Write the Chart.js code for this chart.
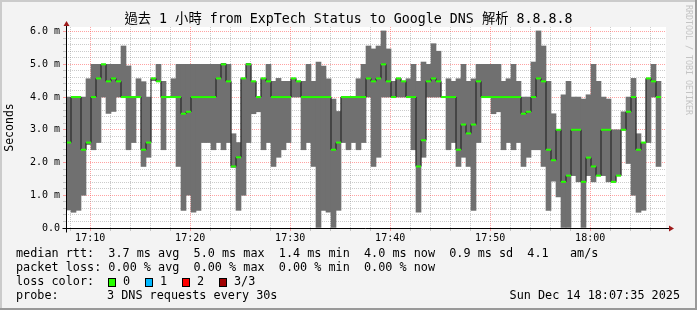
<!DOCTYPE html>
<html>
<head>
<meta charset="utf-8">
<title>過去 1 小時 from ExpTech Status to Google DNS 解析 8.8.8.8</title>
<script src="https://cdn.jsdelivr.net/npm/chart.js@4.4.0/dist/chart.umd.min.js"></script>
<style>
  html, body { margin: 0; padding: 0; background: #f3f3f3; }
  canvas { display: block; }
</style>
</head>
<body>
<canvas id="smoke" width="697" height="310"></canvas>
<script>
// time window, in minutes after 17:00
const windowStartMin = 7 + 35 / 60;   // 17:07:35
const windowEndMin = windowStartMin + 60;
const stepMin = 0.5;                  // 3 DNS requests every 30s

const xTickMinutes = [10, 20, 30, 40, 50, 60];
const xTickLabels = ['17:10', '17:20', '17:30', '17:40', '17:50', '18:00'];
const yTickValues = [0, 1, 2, 3, 4, 5, 6];
const yTickLabels = ['0.0', '1.0 m', '2.0 m', '3.0 m', '4.0 m', '5.0 m', '6.0 m'];

// rtt per 30s round, in ms
const rttMedian = [
  2.61, 4.0, 4.0, 2.39, 2.61, 4.0, 4.57, 5.0, 4.48, 4.57,
  4.48, 4.0, 4.0, 4.0, 4.0, 2.39, 2.61, 4.57, 4.48, 4.0,
  4.0, 4.0, 4.0, 3.49, 3.55, 4.0, 4.0, 4.0, 4.0, 4.0,
  4.57, 5.0, 4.48, 1.88, 2.16, 4.57, 5.0, 4.48, 4.0, 4.57,
  4.48, 4.0, 4.0, 4.0, 4.0, 4.57, 4.48, 4.0, 4.0, 4.0,
  4.0, 4.0, 4.0, 2.39, 2.61, 4.0, 4.0, 4.0, 4.0, 4.0,
  4.57, 4.48, 4.57, 5.0, 4.48, 4.0, 4.57, 4.48, 4.0, 4.0,
  1.88, 2.68, 4.48, 4.57, 4.48, 4.0, 4.0, 4.0, 2.39, 3.16,
  2.89, 3.16, 4.48, 4.0, 4.0, 4.0, 4.0, 4.0, 4.0, 4.0,
  4.0, 3.49, 3.55, 4.0, 4.57, 4.48, 2.39, 2.07, 3.0, 1.41,
  1.6, 3.0, 3.0, 1.41, 2.15, 1.88, 1.6, 3.0, 3.0, 1.41,
  1.6, 3.0, 3.55, 4.0, 2.39, 2.61, 4.57, 4.48, 4.0
];
const rttMax = [
  4.0, 4.0, 4.0, 4.0, 4.56, 5.0, 5.0, 5.0, 5.0, 5.0,
  5.0, 5.56, 4.95, 4.0, 4.56, 4.47, 4.0, 4.57, 5.0, 4.48,
  4.0, 4.56, 5.0, 5.0, 5.0, 5.0, 5.0, 5.0, 5.0, 5.0,
  5.0, 5.03, 5.0, 2.88, 2.61, 4.57, 5.03, 4.48, 4.0, 4.57,
  5.0, 4.48, 4.57, 4.48, 4.48, 4.57, 4.48, 4.48, 5.0, 4.48,
  5.07, 4.95, 4.56, 3.94, 3.56, 4.0, 4.0, 4.0, 4.56, 5.0,
  5.56, 5.47, 5.56, 6.02, 5.47, 4.48, 4.57, 4.48, 4.56, 5.0,
  4.48, 5.07, 5.0, 5.63, 5.4, 4.0, 4.56, 4.48, 4.56, 5.0,
  4.48, 4.56, 5.0, 5.0, 5.0, 5.0, 5.0, 4.48, 4.56, 5.0,
  4.48, 4.0, 4.0, 5.07, 6.02, 5.56, 4.48, 3.49, 3.0, 4.07,
  4.48, 4.0, 4.0, 3.94, 4.07, 5.0, 4.48, 4.0, 3.94, 3.0,
  3.0, 3.55, 4.0, 4.57, 2.88, 2.61, 4.57, 5.0, 4.48
];
const rttMin = [
  0.55, 0.48, 0.54, 1.0, 2.55, 2.39, 2.61, 4.0, 3.5, 3.56,
  4.0, 4.0, 2.39, 2.61, 4.0, 1.88, 2.16, 4.5, 4.48, 2.39,
  4.0, 4.0, 1.88, 0.54, 1.0, 0.48, 0.54, 2.61, 2.61, 2.39,
  2.61, 2.39, 2.61, 1.85, 0.54, 1.0, 2.61, 3.49, 3.55, 2.39,
  2.61, 1.88, 2.16, 2.39, 2.61, 4.0, 4.0, 2.39, 2.61, 1.88,
  0.0, 0.54, 0.48, 0.0, 0.54, 2.61, 2.39, 2.61, 2.39, 2.61,
  4.0, 1.88, 2.16, 4.0, 4.0, 4.0, 4.0, 4.0, 4.0, 2.39,
  0.48, 2.16, 4.0, 4.0, 4.0, 4.0, 2.39, 2.61, 1.88, 2.16,
  1.88, 0.54, 2.61, 4.0, 4.0, 3.49, 3.55, 2.39, 2.61, 2.39,
  2.61, 1.88, 2.16, 2.39, 2.39, 1.88, 0.54, 1.43, 0.95, 0.0,
  0.0, 1.6, 1.41, 0.0, 1.6, 1.41, 1.6, 1.6, 1.41, 1.41,
  1.6, 3.0, 1.97, 1.0, 0.48, 0.54, 2.61, 4.0, 1.88
];

const titleText = '過去 1 小時 from ExpTech Status to Google DNS 解析 8.8.8.8';
const rttStats = ['3.7 ms avg', '5.0 ms max', '1.4 ms min', '4.0 ms now', '0.9 ms sd', '4.1   am/s'];
const lossStats = ['0.00 % avg', '0.00 % max', '0.00 % min', '0.00 % now'];
const lossLabels = ['0', '1', '2', '3/3'];
const lossColors = ['#26ff00', '#00b8ff', '#ff0000', '#a00000'];
const probeText = '3 DNS requests every 30s';
const stampText = 'Sun Dec 14 18:07:35 2025';

const MONO = '"DejaVu Sans Mono", monospace';
const minorGrid = 'rgba(140, 140, 140, 0.45)';
const majorGrid = 'rgba(255, 70, 70, 0.5)';

function gridColor(ctx) {
    return ctx.tick && ctx.tick.major ? majorGrid : minorGrid;
}

const sampleTimes = rttMedian.map((_, i) => windowStartMin + (i + 0.5) * stepMin);

const chromePlugin = {
    id: 'chrome',
    beforeDraw(chart) {
        const { ctx, chartArea: a } = chart;
        ctx.save();
        ctx.fillStyle = '#f3f3f3';
        ctx.fillRect(0, 0, chart.width, chart.height);
        ctx.fillStyle = '#ffffff';
        ctx.fillRect(a.left, a.top, a.right - a.left, a.bottom - a.top);
        ctx.restore();
    },
    afterDraw(chart) {
        const { ctx, chartArea: a } = chart;
        const yb = Math.round(chart.scales.y.getPixelForValue(0) - 0.5) + 0.5;
        const xl = Math.round(a.left) + 0.5;
        ctx.save();

        // title, centred on the whole image
        ctx.fillStyle = '#000';
        ctx.font = '13.3px ' + MONO + ', "Noto Sans CJK TC"';
        ctx.textAlign = 'center';
        ctx.textBaseline = 'middle';
        ctx.fillText(titleText, chart.width / 2, 20);

        // axes with arrows
        ctx.strokeStyle = '#000';
        ctx.lineWidth = 1;
        ctx.beginPath();
        ctx.moveTo(xl - 4, yb); ctx.lineTo(a.right + 3, yb);
        ctx.moveTo(xl, yb + 4); ctx.lineTo(xl, a.top - 1);
        ctx.stroke();
        ctx.fillStyle = '#9e1b1b';
        ctx.beginPath();
        ctx.moveTo(a.right + 3, yb - 3); ctx.lineTo(a.right + 8, yb); ctx.lineTo(a.right + 3, yb + 3);
        ctx.closePath(); ctx.fill();
        ctx.beginPath();
        ctx.moveTo(xl - 3, a.top - 1); ctx.lineTo(xl, a.top - 6); ctx.lineTo(xl + 3, a.top - 1);
        ctx.closePath(); ctx.fill();

        // legend
        ctx.fillStyle = '#000';
        ctx.font = '11.8px ' + MONO;
        ctx.textBaseline = 'middle';
        ctx.textAlign = 'left';
        ctx.fillText('median rtt:  ' + rttStats.join('  '), 16, 254);
        ctx.fillText('packet loss: ' + lossStats.join('  '), 16, 268);
        ctx.fillText('loss color:', 16, 282);
        lossLabels.forEach((label, i) => {
            const bx = 108 + i * 37;
            ctx.fillStyle = lossColors[i];
            ctx.fillRect(bx, 278, 8, 9);
            ctx.strokeStyle = '#000';
            ctx.strokeRect(bx + 0.5, 278.5, 7, 8);
            ctx.fillStyle = '#000';
            ctx.fillText(label, bx + 15, 282);
        });
        ctx.fillText('probe:', 16, 296);
        ctx.fillText(probeText, 107, 296);
        ctx.textAlign = 'right';
        ctx.fillText(stampText, 680, 296);

        // watermark
        ctx.save();
        ctx.translate(688, 5);
        ctx.rotate(Math.PI / 2);
        ctx.textAlign = 'left';
        ctx.fillStyle = '#c4c4c4';
        ctx.font = '8.3px ' + MONO;
        ctx.fillText('RRDTOOL / TOBI OETIKER', 0, 0);
        ctx.restore();

        // frame shading
        ctx.fillStyle = '#cbcbcb';
        ctx.fillRect(0, 0, chart.width, 2);
        ctx.fillRect(0, 0, 2, chart.height);
        ctx.fillStyle = '#999999';
        ctx.fillRect(0, chart.height - 2, chart.width, 2);
        ctx.fillRect(chart.width - 2, 0, 2, chart.height);
        ctx.restore();
    }
};

new Chart(document.getElementById('smoke'), {
    type: 'bar',
    data: {
        datasets: [
            {
                type: 'line',
                label: 'median marks',
                data: sampleTimes.map((t, i) => ({ x: t, y: rttMedian[i] })),
                showLine: false,
                pointStyle: 'line',
                pointRadius: 2.5,
                pointHoverRadius: 2.5,
                pointBorderWidth: 2,
                pointBorderColor: lossColors[0],
                pointBackgroundColor: lossColors[0],
                order: 1
            },
            {
                type: 'line',
                label: 'median',
                data: sampleTimes.map((t, i) => ({ x: t, y: rttMedian[i] })),
                stepped: 'middle',
                borderColor: '#1a1a1a',
                borderWidth: 1,
                pointRadius: 0,
                fill: false,
                order: 2
            },
            {
                label: 'smoke',
                data: sampleTimes.map((t, i) => ({ x: t, y: [rttMin[i], rttMax[i]] })),
                backgroundColor: '#707070',
                borderWidth: 0,
                barPercentage: 1,
                categoryPercentage: 1,
                order: 3
            }
        ]
    },
    options: {
        responsive: false,
        animation: false,
        devicePixelRatio: 1,
        events: [],
        layout: { padding: { left: 0, right: 31, top: 27, bottom: 0 } },
        plugins: {
            legend: { display: false },
            tooltip: { enabled: false },
            title: { display: false }
        },
        scales: {
            x: {
                type: 'linear',
                min: windowStartMin,
                max: windowEndMin,
                bounds: 'data',
                offset: false,
                afterBuildTicks(scale) {
                    const ticks = [];
                    for (let m = 8; m <= 66; m += 2) {
                        ticks.push({ value: m, major: xTickMinutes.includes(m) });
                    }
                    scale.ticks = ticks;
                },
                afterFit(scale) { scale.height = 82; },
                ticks: {
                    autoSkip: false,
                    maxRotation: 0,
                    padding: 1,
                    color: '#000',
                    font: { family: MONO, size: 10 },
                    callback(value) {
                        const i = xTickMinutes.indexOf(value);
                        return i >= 0 ? xTickLabels[i] : '';
                    }
                },
                grid: {
                    offset: false,
                    color: gridColor,
                    tickColor: gridColor,
                    tickLength: 3,
                    borderDash: [1, 1]
                },
                border: { display: false, dash: [1, 1] }
            },
            y: {
                type: 'linear',
                min: 0,
                max: 6.14,
                bounds: 'data',
                afterBuildTicks(scale) {
                    const ticks = [];
                    for (let i = 0; i <= 30; i++) {
                        ticks.push({ value: i / 5, major: i % 5 === 0 });
                    }
                    scale.ticks = ticks;
                },
                afterFit(scale) { scale.width = 66; },
                ticks: {
                    autoSkip: false,
                    padding: 3,
                    color: '#000',
                    font: { family: MONO, size: 10 },
                    callback(value) {
                        const i = yTickValues.indexOf(value);
                        return i >= 0 ? yTickLabels[i] : '';
                    }
                },
                grid: {
                    color: gridColor,
                    tickColor: gridColor,
                    tickLength: 3,
                    borderDash: [1, 1]
                },
                border: { display: false, dash: [1, 1] },
                title: {
                    display: true,
                    text: 'Seconds',
                    color: '#000',
                    font: { family: MONO, size: 11.5 },
                    padding: { top: 3, bottom: 0 }
                }
            }
        }
    },
    plugins: [chromePlugin]
});
</script>
</body>
</html>
